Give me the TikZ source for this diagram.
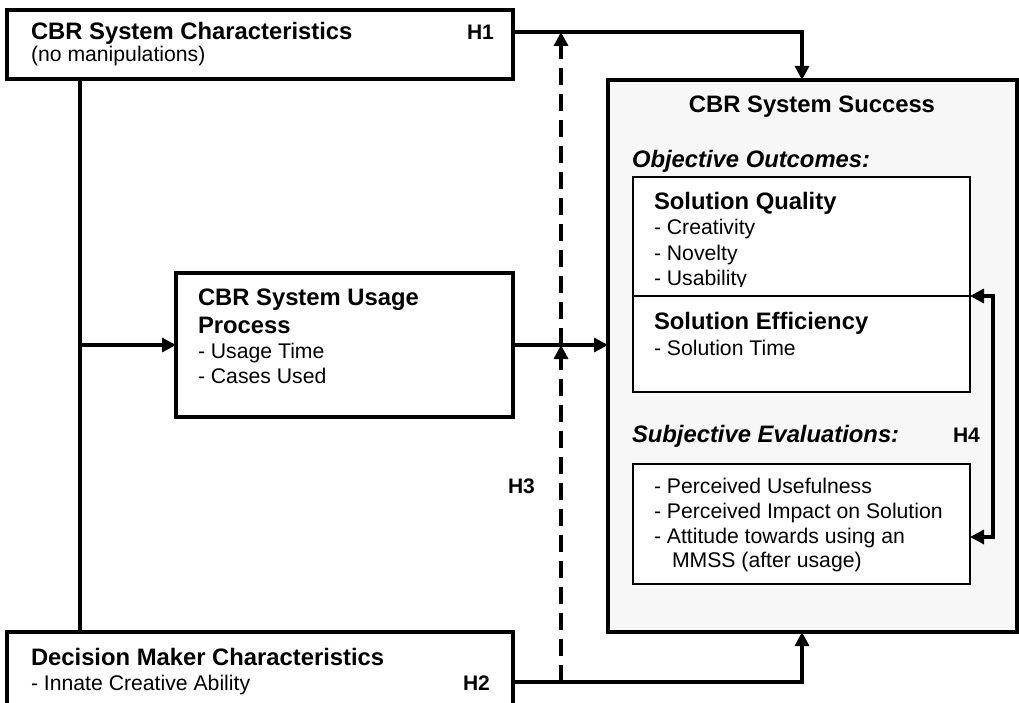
\documentclass[tikz,border=0pt]{standalone}
\usepackage{fontspec}
\setmainfont{Liberation Sans}
\usetikzlibrary{arrows.meta}
\definecolor{panel}{HTML}{F7F7F7}
\newcommand\hdfont{\fontsize{23.8}{28}\selectfont\bfseries}
\newcommand\hlfont{\fontsize{21}{25}\selectfont\bfseries}
\newcommand\itfont{\fontsize{23.8}{28}\selectfont\bfseries\itshape}
\newcommand\txfont{\fontsize{21.2}{25}\selectfont}
\begin{document}
\begin{tikzpicture}[x=1pt,y=-1pt,
  box/.style={draw=black, line width=3.2pt, anchor=north west, inner sep=0pt, outer sep=0pt},
  inbox/.style={box, line width=2.8pt, fill=white},
  txt/.style={anchor=base west, inner sep=0pt, outer sep=0pt},
  conn/.style={line width=3.2pt},
  arr/.style={conn, -{Triangle[length=14pt,width=14pt]}},
  dasharr/.style={arr, dash pattern=on 17pt off 9pt},
  twoway/.style={conn, {Triangle[length=14pt,width=14pt]}-{Triangle[length=14pt,width=14pt]}}]
\useasboundingbox (0,0) rectangle (1019,703);
\fill[white] (0,0) rectangle (1019,703);
\clip (0,0) rectangle (1019,703);

% boxes
\node[box, minimum width=506pt, minimum height=69pt] (sys) at (7,10) {};
\node[box, minimum width=337pt, minimum height=144pt] (use) at (176,273) {};
\node[box, minimum width=506pt, minimum height=110pt] (dm) at (7,632) {};
\node[box, fill=panel, minimum width=409pt, minimum height=552pt] (succ) at (608,80) {};
\node[inbox, minimum width=337pt, minimum height=119pt] (sq) at (633,177) {};
\node[inbox, minimum width=337pt, minimum height=96pt] (se) at (633,296) {};
\node[inbox, minimum width=337pt, minimum height=120pt] (sub) at (633,464) {};

% texts of the left column
\node[txt] (sysT) at (31,40) {\hdfont CBR System Characteristics};
\node[txt] (sysS) at (31,62) {\txfont (no manipulations)};
\node[txt] (h1) at (467,40) {\hlfont H1};
\node[txt] (useT) at (198,305) {\hdfont CBR System Usage};
\node[txt] (useP) at (198,333) {\hdfont Process};
\node[txt] (useA) at (198,358) {\txfont - Usage Time};
\node[txt] (useB) at (198,383) {\txfont - Cases Used};
\node[txt] (dmT) at (31,665) {\hdfont Decision Maker Characteristics};
\node[txt] (dmA) at (31,690) {\txfont - Innate Creative Ability};
\node[txt] (h2) at (463,690) {\hlfont H2};
\node[txt] (h3) at (508,493) {\hlfont H3};

% texts of the success panel
\node[anchor=base, inner sep=0pt] (succT) at (812,113) {\hdfont CBR System Success};
\node[txt] (obj) at (632,168) {\itfont Objective Outcomes:};
\begin{scope}
  \clip (633,177) rectangle (970,286);
  \node[txt] (sqT) at (654,210) {\hdfont Solution Quality};
  \node[txt] (sqA) at (654,235) {\txfont - Creativity};
  \node[txt] (sqB) at (654,260) {\txfont - Novelty};
  \node[txt] (sqC) at (654,285) {\txfont - Usability};
\end{scope}
\node[txt] (seT) at (654,329) {\hdfont Solution Efficiency};
\node[txt] (seA) at (654,355) {\txfont - Solution Time};
\node[txt] (subj) at (632,442) {\itfont Subjective Evaluations:};
\node[txt] (h4) at (953,442) {\hlfont H4};
\node[txt] (subA) at (654,493) {\txfont - Perceived Usefulness};
\node[txt] (subB) at (654,518) {\txfont - Perceived Impact on Solution};
\node[txt] (subC) at (654,543) {\txfont - Attitude towards using an};
\node[txt] (subD) at (672,567) {\txfont MMSS (after usage)};

% connector junctions
\coordinate (v) at (80,345);
\coordinate (j1) at (802,32);
\coordinate (j2) at (802,682);
\coordinate (d) at (561,682);
\coordinate (k1) at (993,296);
\coordinate (k2) at (993,537);

% connectors
\draw[conn] (sys.south -| v) -- (dm.north -| v);
\draw[arr] (v) -- (use.west |- v);
\draw[arr] (use.east |- v) -- (succ.west |- v);
\draw[arr] (sys.east |- j1) -- (j1) -- (succ.north -| j1);
\draw[arr] (dm.east |- j2) -- (j2) -- (succ.south -| j2);
\draw[dasharr] (d) -- (d |- v);
\draw[dasharr] (d |- v) -- (d |- j1);
\draw[twoway] (se.north east) -- (k1) -- (k2) -- (sub.east |- k2);
\end{tikzpicture}
\end{document}
